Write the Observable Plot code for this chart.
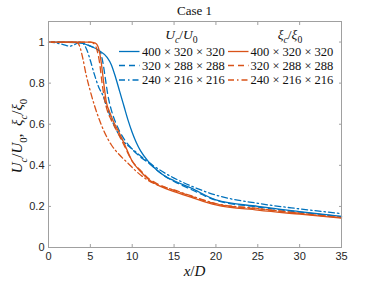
<!DOCTYPE html>
<html>
<head>
<meta charset="utf-8">
<script src="https://cdn.jsdelivr.net/npm/d3@7"></script>
<script src="https://cdn.jsdelivr.net/npm/@observablehq/plot@0.6"></script>
<style>
  html, body { margin: 0; padding: 0; background: #fff; }
  #chart svg { display: block; }
</style>
</head>
<body>
<div id="chart"></div>
<script>
// ---- data ----
const xTicks = [0, 5, 10, 15, 20, 25, 30, 35];
const yTicks = [0, 0.2, 0.4, 0.6, 0.8, 1];
const yTickLabels = ["0", "0.2", "0.4", "0.6", "0.8", "1"];
const gridLabels = ["400 × 320 × 320", "320 × 288 × 288", "240 × 216 × 216"];

// U_c/U_0
const u400x = [0,2,3,4,5,6,7,7.5,8,8.5,9,9.5,10,10.5,11,12,13,14,15,17,20,25,30,35];
const u400y = [1,1,1,0.995,0.98,0.96,0.925,0.89,0.83,0.76,0.69,0.62,0.56,0.51,0.47,0.415,0.375,0.345,0.325,0.29,0.232,0.2,0.175,0.152];
const u320x = [0,4,5,5.8,6.2,6.5,6.8,7.1,7.5,8,8.5,9,10,11,12,13,14,15,17,20,25,30,35];
const u320y = [1,0.995,0.98,0.965,0.95,0.9,0.82,0.74,0.67,0.61,0.565,0.53,0.478,0.44,0.41,0.375,0.345,0.322,0.283,0.23,0.197,0.172,0.15];
const u240x = [0,1,2,2.5,3,3.7,4.2,4.6,5,5.5,6,6.5,7,8,9,10,11,12,13,14,15,17,20,25,30,35];
const u240y = [1,0.995,0.985,0.98,0.985,1,0.99,0.96,0.91,0.84,0.78,0.74,0.68,0.58,0.515,0.48,0.445,0.413,0.385,0.36,0.338,0.3,0.255,0.215,0.188,0.165];

// xi_c/xi_0
const xi400x = [0,5,5.6,5.9,6.1,6.3,6.6,6.9,7.3,7.8,8.3,9,10,11,12,13,15,17,20,25,30,35];
const xi400y = [1,1,0.995,0.98,0.95,0.9,0.8,0.71,0.66,0.61,0.57,0.51,0.42,0.37,0.33,0.305,0.272,0.245,0.207,0.182,0.162,0.143];
const xi320x = [0,5,5.5,5.8,6.1,6.4,6.7,7,7.5,8,9,10,11,12,13,15,17,20,25,30,35];
const xi320y = [1,1,0.99,0.96,0.9,0.8,0.72,0.67,0.62,0.58,0.5,0.42,0.375,0.335,0.31,0.278,0.25,0.212,0.188,0.166,0.145];
const xi240x = [0,3,3.5,3.8,4.1,4.5,5,5.5,6,6.7,7.5,8.5,9.5,10.5,11.9,13,15,17,20,25,30,35];
const xi240y = [1,1,0.995,0.97,0.92,0.84,0.76,0.69,0.63,0.56,0.5,0.45,0.41,0.37,0.327,0.305,0.28,0.252,0.214,0.19,0.167,0.145];

// ---- styling ----
const blue = "#0072BD";
const orange = "#D95319";
const dashes = [null, "6,4", "6,3,1.5,3"];
const serif = "Liberation Serif, DejaVu Serif, serif";

const toRows = (xs, ys) => xs.map((x, i) => ({x, y: ys[i]}));
const uSeries = [toRows(u400x, u400y), toRows(u320x, u320y), toRows(u240x, u240y)];
const xiSeries = [toRows(xi400x, xi400y), toRows(xi320x, xi320y), toRows(xi240x, xi240y)];

const lineMarks = [];
uSeries.forEach((d, i) => lineMarks.push(Plot.line(d, {x: "x", y: "y", stroke: blue, strokeWidth: 1.3, strokeDasharray: dashes[i], curve: "monotone-x"})));
xiSeries.forEach((d, i) => lineMarks.push(Plot.line(d, {x: "x", y: "y", stroke: orange, strokeWidth: 1.3, strokeDasharray: dashes[i], curve: "monotone-x"})));

const axisColor = "#262626";
const plot = Plot.plot({
  width: 376,
  height: 282,
  marginLeft: 48,
  marginRight: 35,
  marginTop: 21,
  marginBottom: 35,
  style: {fontFamily: "'Liberation Sans', Arial, sans-serif", fontSize: "11px", color: axisColor, background: "#fff"},
  x: {domain: [0, 35], label: null},
  y: {domain: [0, 1.1], label: null},
  marks: [
    ...lineMarks,
    Plot.frame({stroke: "#a0a0a0", strokeWidth: 1}),
    Plot.axisX({ticks: xTicks, tickSize: -3, tickPadding: 8, label: null, stroke: "#a0a0a0", fill: axisColor}),
    Plot.axisX({anchor: "top", ticks: xTicks, tickSize: -3, text: null, label: null, stroke: "#a0a0a0"}),
    Plot.axisY({ticks: yTicks, tickFormat: (d) => yTickLabels[yTicks.indexOf(d)] ?? "", tickSize: -3, tickPadding: 7, label: null, stroke: "#a0a0a0", fill: axisColor}),
    Plot.axisY({anchor: "right", ticks: yTicks, tickSize: -3, text: null, label: null, stroke: "#a0a0a0"})
  ]
});
document.getElementById("chart").appendChild(plot);

// ---- text helpers ----
const svg = d3.select(plot);
function mathText(g, parts, size) {
  // parts: [text, italic, sub]
  let shifted = false;
  parts.forEach(([t, it, sub]) => {
    const ts = g.append("tspan").text(t).style("font-style", it ? "italic" : "normal");
    if (sub && !shifted) { ts.attr("dy", size * 0.3).style("font-size", (size * 0.72) + "px"); shifted = true; }
    else if (sub) { ts.style("font-size", (size * 0.72) + "px"); }
    else if (!sub && shifted) { ts.attr("dy", -size * 0.3); shifted = false; }
  });
}
function addText(parent, x, y, size, anchor) {
  return parent.append("text").attr("x", x).attr("y", y)
    .style("text-anchor", anchor).style("font-family", serif)
    .style("font-size", size + "px").style("fill", "#111");
}
const uParts = [["U", true], ["c", true, true], ["/", false], ["U", true], ["0", false, true]];
const xiParts = [["ξ", true], ["c", true, true], ["/", false], ["ξ", true], ["0", false, true]];

// title
addText(svg, 194.5, 15, 13, "middle").text("Case 1");

// x label
mathText(addText(svg, 194.5, 276, 15, "middle"), [["x", true], ["/", false], ["D", true]], 15);

// y label
const yl = addText(svg, 0, 0, 15, "middle").attr("transform", "translate(22,136) rotate(-90)");
mathText(yl, [...uParts, [",  ", false], ...xiParts], 15);

// legend
const lg = svg.append("g");
mathText(addText(lg, 181.5, 39, 13.5, "middle"), uParts, 13.5);
mathText(addText(lg, 290, 39, 13.5, "middle"), xiParts, 13.5);
const rowY = [51.5, 65.5, 80];
const cols = [{color: blue, x0: 119, x1: 139.5, tx: 142}, {color: orange, x0: 228, x1: 248.5, tx: 250.5}];
cols.forEach(c => {
  gridLabels.forEach((lab, i) => {
    lg.append("line").attr("x1", c.x0).attr("x2", c.x1).attr("y1", rowY[i]).attr("y2", rowY[i])
      .attr("stroke", c.color).attr("stroke-width", 1.3).attr("stroke-dasharray", dashes[i]);
    addText(lg, c.tx, rowY[i], 12.5, "start").attr("dy", "0.35em").text(lab);
  });
});
</script>
</body>
</html>
